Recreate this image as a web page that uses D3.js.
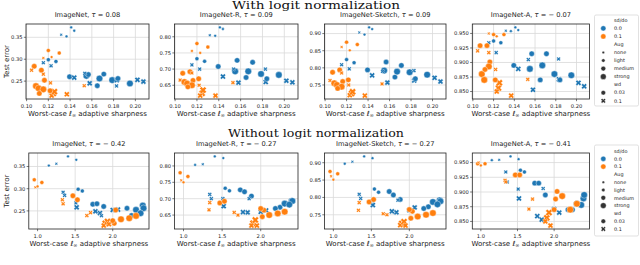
<!DOCTYPE html>
<html lang="en">
<head>
  <meta charset="UTF-8">
  <title>Sharpness vs test error</title>
  <script src="https://d3js.org/d3.v7.min.js"></script>
  <style>
    body { margin: 0; background: #fff; }
    svg { display: block; font-family: "DejaVu Sans", sans-serif; }
    .grid line { stroke: #d9d9d9; stroke-width: 0.8; }
    .frame { fill: none; stroke: #222; stroke-width: 0.8; }
    .tick-text { font-size: 5.2px; fill: #222; }
    .tick-mark { stroke: #222; stroke-width: 0.6; }
    .ptitle { font-size: 6.7px; fill: #222; text-anchor: middle; }
    .axlabel { font-size: 7px; fill: #222; text-anchor: middle; }
    .suptitle { font-family: "DejaVu Serif", serif; font-size: 11px; fill: #111; text-anchor: middle; }
    .leg { font-size: 4.9px; fill: #222; }
  </style>
</head>
<body>
  <svg width="640" height="265"></svg>

  <script>
    const datasets = ['ImageNet', 'ImageNet-R', 'ImageNet-Sketch', 'ImageNet-A'];
    const tauNorm = [0.08, 0.09, 0.09, -0.07];
    const tauRaw = [-0.42, -0.27, -0.27, -0.41];

    // one entry per model (24 with sd/do 0.0, 20 with sd/do 0.1)
    const sdDo = [
      0, 0, 0, 0, 0, 0, 0, 0, 0, 0, 0, 0, 0, 0, 0, 0, 0, 0, 0, 0, 0, 0, 0, 0,
      0.1, 0.1, 0.1, 0.1, 0.1, 0.1, 0.1, 0.1, 0.1, 0.1, 0.1, 0.1, 0.1, 0.1, 0.1, 0.1, 0.1, 0.1, 0.1, 0.1
    ];
    const aug = [
      'none', 'none', 'none', 'none', 'light', 'light', 'light', 'light', 'medium', 'medium', 'strong', 'medium',
      'medium', 'medium', 'strong', 'medium', 'strong', 'medium', 'medium', 'light', 'strong', 'medium', 'medium', 'light',
      'light', 'none', 'light', 'none', 'medium', 'light', 'medium', 'light', 'medium', 'light',
      'strong', 'strong', 'strong', 'medium', 'strong', 'medium', 'strong', 'medium', 'light', 'medium'
    ];
    const wd = [
      0.03, 0.03, 0.1, 0.03, 0.03, 0.1, 0.03, 0.1, 0.03, 0.1, 0.03, 0.03,
      0.1, 0.03, 0.03, 0.03, 0.03, 0.1, 0.03, 0.1, 0.03, 0.1, 0.1, 0.1,
      0.03, 0.1, 0.03, 0.03, 0.03, 0.1, 0.03, 0.1, 0.03, 0.1,
      0.03, 0.03, 0.03, 0.03, 0.1, 0.1, 0.1, 0.1, 0.1, 0.03
    ];
    const sharpNorm = [
      0.141, 0.1438, 0.1318, 0.1367, 0.120, 0.1154, 0.127, 0.1225, 0.1395, 0.1438, 0.155, 0.1568,
      0.158, 0.165, 0.167, 0.171, 0.1787, 0.183, 0.184, 0.1827, 0.195, 0.2019, 0.2074, 0.1535,
      0.120, 0.1154, 0.130, 0.123, 0.107, 0.1046, 0.1136, 0.1154, 0.1164, 0.122,
      0.1086, 0.111, 0.1154, 0.1117, 0.1247, 0.123, 0.1256, 0.137, 0.153, 0.1216
    ];
    const sharpRaw = [
      1.405, 1.515, 1.25, 1.15, 1.54, 1.34, 1.595, 1.36, 1.88, 1.52, 2.40, 1.735,
      1.83, 2.25, 2.41, 1.79, 2.31, 2.0, 2.19, 1.85, 2.37, 2.07, 1.77, 1.51,
      0.956, 0.97, 1.057, 1.0, 1.47, 1.33, 1.53, 1.34, 2.04, 1.705,
      2.31, 2.22, 2.11, 2.02, 1.90, 1.88, 1.93, 1.95, 1.656, 2.0
    ];
    const errImageNet = [
      0.3726, 0.365, 0.356, 0.352, 0.299, 0.292, 0.295, 0.285, 0.26, 0.258, 0.262, 0.265,
      0.245, 0.2395, 0.256, 0.266, 0.2523, 0.252, 0.256, 0.239, 0.2447, 0.253, 0.249, 0.268,
      0.32, 0.303, 0.314, 0.305, 0.284, 0.275, 0.275, 0.266, 0.252, 0.246,
      0.2387, 0.2335, 0.2312, 0.222, 0.222, 0.217, 0.226, 0.22, 0.2395, 0.228
    ];
    const errR = [
      0.829, 0.824, 0.805, 0.803, 0.732, 0.713, 0.724, 0.70, 0.708, 0.677, 0.693, 0.727,
      0.658, 0.674, 0.693, 0.721, 0.685, 0.66, 0.67, 0.70, 0.682, 0.664, 0.659, 0.70,
      0.779, 0.756, 0.768, 0.75, 0.687, 0.666, 0.692, 0.688, 0.665, 0.65,
      0.66, 0.655, 0.65, 0.645, 0.625, 0.618, 0.635, 0.618, 0.658, 0.67
    ];
    const errSketch = [
      0.918, 0.913, 0.903, 0.897, 0.824, 0.809, 0.815, 0.797, 0.794, 0.778, 0.792, 0.817,
      0.757, 0.773, 0.789, 0.807, 0.787, 0.763, 0.768, 0.792, 0.78, 0.771, 0.76, 0.79,
      0.875, 0.861, 0.868, 0.851, 0.787, 0.763, 0.794, 0.785, 0.76, 0.75,
      0.755, 0.75, 0.745, 0.74, 0.725, 0.72, 0.73, 0.719, 0.753, 0.765
    ];
    const errA = [
      0.9604, 0.9558, 0.9546, 0.954, 0.937, 0.934, 0.934, 0.917, 0.895, 0.889, 0.889, 0.915,
      0.853, 0.87, 0.895, 0.915, 0.88, 0.871, 0.87, 0.906, 0.878, 0.865, 0.859, 0.905,
      0.948, 0.95, 0.948, 0.945, 0.929, 0.92, 0.929, 0.917, 0.901, 0.888,
      0.88, 0.87, 0.893, 0.888, 0.856, 0.85, 0.865, 0.843, 0.871, 0.87
    ];
    const errors = [errImageNet, errR, errSketch, errA];

    const yTicks = [
      [0.25, 0.30, 0.35],
      [0.65, 0.70, 0.75, 0.80],
      [0.75, 0.80, 0.85, 0.90],
      [0.850, 0.875, 0.900, 0.925, 0.950]
    ];
    const yFormats = ['.2f', '.2f', '.2f', '.3f'];
    const xTicksNorm = [0.10, 0.12, 0.14, 0.16, 0.18, 0.20];
    const xTicksRaw = [1.0, 1.5, 2.0];

    const augLevels = ['none', 'light', 'medium', 'strong'];
    const sdLevels = [0.0, 0.1];

    const color = d3.scaleOrdinal().domain(sdLevels).range(['#1f77b4', '#ff7f0e']);
    const radius = d3.scaleOrdinal().domain(augLevels).range([1.4, 2.0, 2.7, 3.3]);

    // matplotlib-like filled "X" marker
    function xPath(r) {
      const L = r * 1.1, w = r * 0.38;
      const pts = [[w, w], [w, L], [-w, L], [-w, w], [-L, w], [-L, -w], [-w, -w], [-w, -L], [w, -L], [w, -w], [L, -w], [L, w]];
      const c = Math.SQRT1_2;
      return 'M' + pts.map(([x, y]) => [(x - y) * c, (x + y) * c].map(v => v.toFixed(2)).join(',')).join('L') + 'Z';
    }

    function addMarker(g, x, y, r, isX, fill) {
      if (isX) {
        g.append('path').attr('d', xPath(r)).attr('transform', `translate(${x},${y})`)
          .attr('fill', fill).attr('stroke', '#fff').attr('stroke-width', 0.4);
      } else {
        g.append('circle').attr('cx', x).attr('cy', y).attr('r', r)
          .attr('fill', fill).attr('stroke', '#fff').attr('stroke-width', 0.4);
      }
    }

    function padded(values) {
      const [lo, hi] = d3.extent(values);
      const p = (hi - lo) * 0.05;
      return [lo - p, hi + p];
    }

    const svg = d3.select('svg');

    const cols = [[26, 149], [174.5, 298], [324.5, 446], [472.3, 589.5]];
    const rows = [
      { top: 24, bottom: 99, sharp: sharpNorm, ticks: xTicksNorm, fmt: '.2f', tau: tauNorm, left0: 26,
        title: 'With logit normalization', titleY: 9.3, titleLen: 168 },
      { top: 153, bottom: 229, sharp: sharpRaw, ticks: xTicksRaw, fmt: '.1f', tau: tauRaw, left0: 28.8,
        title: 'Without logit normalization', titleY: 137.3, titleLen: 176 }
    ];

    rows.forEach(row => {
      svg.append('text').attr('class', 'suptitle')
        .attr('x', 316).attr('y', row.titleY)
        .attr('textLength', row.titleLen).attr('lengthAdjust', 'spacingAndGlyphs')
        .text(row.title);

      datasets.forEach((name, k) => {
        const x0 = k === 0 ? row.left0 : cols[k][0];
        const x1 = cols[k][1];
        const x = d3.scaleLinear().domain(padded(row.sharp)).range([x0, x1]);
        const y = d3.scaleLinear().domain(padded(errors[k])).range([row.bottom, row.top]);
        const g = svg.append('g');

        const grid = g.append('g').attr('class', 'grid');
        row.ticks.forEach(t => grid.append('line').attr('x1', x(t)).attr('x2', x(t)).attr('y1', row.top).attr('y2', row.bottom));
        yTicks[k].forEach(t => grid.append('line').attr('x1', x0).attr('x2', x1).attr('y1', y(t)).attr('y2', y(t)));

        const pts = g.append('g');
        errors[k].forEach((e, i) => {
          addMarker(pts, x(row.sharp[i]), y(e), radius(aug[i]), wd[i] === 0.1, color(sdDo[i]));
        });

        g.append('rect').attr('class', 'frame')
          .attr('x', x0).attr('y', row.top).attr('width', x1 - x0).attr('height', row.bottom - row.top);

        row.ticks.forEach(t => {
          g.append('line').attr('class', 'tick-mark').attr('x1', x(t)).attr('x2', x(t))
            .attr('y1', row.bottom).attr('y2', row.bottom + 2.2);
          g.append('text').attr('class', 'tick-text').attr('text-anchor', 'middle')
            .attr('x', x(t)).attr('y', row.bottom + 9.2).text(d3.format(row.fmt)(t));
        });
        yTicks[k].forEach(t => {
          g.append('line').attr('class', 'tick-mark').attr('x1', x0 - 2.2).attr('x2', x0)
            .attr('y1', y(t)).attr('y2', y(t));
          g.append('text').attr('class', 'tick-text').attr('text-anchor', 'end')
            .attr('x', x0 - 3.5).attr('y', y(t) + 1.9).text(d3.format(yFormats[k])(t));
        });

        const tau = row.tau[k];
        const tauStr = tau < 0 ? '\u2212 ' + d3.format('.2f')(-tau) : d3.format('.2f')(tau);
        const tt = g.append('text').attr('class', 'ptitle')
          .attr('x', (x0 + x1) / 2).attr('y', row.top - 6.6);
        tt.append('tspan').text(name + ', ');
        tt.append('tspan').attr('font-style', 'italic').text('\u03c4');
        tt.append('tspan').text(' = ' + tauStr);

        const xl = g.append('text').attr('class', 'axlabel')
          .attr('x', (x0 + x1) / 2).attr('y', row.bottom + 16.8);
        xl.append('tspan').text('Worst-case ');
        xl.append('tspan').attr('font-style', 'italic').text('\u2113');
        xl.append('tspan').attr('font-size', '5px').attr('dy', 1.2).text('\u221e');
        xl.append('tspan').attr('dy', -1.2).text(' adaptive sharpness');

        if (k === 0) {
          const cy = (row.top + row.bottom) / 2;
          g.append('text').attr('class', 'axlabel')
            .attr('transform', `translate(8.5,${cy}) rotate(-90)`).text('Test error');
        }
      });
    });

    // legends
    function drawLegend(top, bottom, firstRow, step) {
      const g = svg.append('g');
      g.append('rect').attr('x', 594.5).attr('y', top).attr('width', 44).attr('height', bottom - top)
        .attr('rx', 1.5).attr('fill', '#fff').attr('stroke', '#ccc').attr('stroke-width', 0.6);
      const mx = 603.3, tx = 614;
      const entries = [
        { label: 'sd/do' },
        { label: '0.0', r: 2.6, fill: color(0.0) },
        { label: '0.1', r: 2.6, fill: color(0.1) },
        { label: 'Aug' },
        ...augLevels.map(a => ({ label: a, r: radius(a) * 0.88, fill: '#333' })),
        { label: 'wd' },
        { label: '0.03', r: 2.3, fill: '#333' },
        { label: '0.1', r: 2.3, fill: '#333', isX: true }
      ];
      entries.forEach((e, i) => {
        const yy = firstRow + i * step;
        if (e.r) addMarker(g, mx, yy, e.r, e.isX, e.fill);
        g.append('text').attr('class', 'leg').attr('x', tx).attr('y', yy + 1.7).text(e.label);
      });
    }
    drawLegend(15, 106, 20.3, 8.05);
    drawLegend(145, 236, 151, 7.8);
  </script>
</body>
</html>
